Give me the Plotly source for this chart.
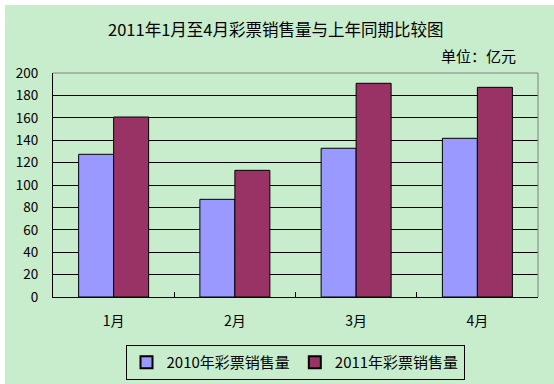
import plotly.graph_objects as go

categories = ["1月", "2月", "3月", "4月"]
sales_2010 = [127.4, 87.2, 132.8, 141.7]
sales_2011 = [160.7, 113.1, 190.8, 187.2]
series_names = ["2010年彩票销售量", "2011年彩票销售量"]
y_ticks = [0, 20, 40, 60, 80, 100, 120, 140, 160, 180, 200]

BG = "#C7EDCC"
FONT = "Noto Sans CJK SC"

W, H = 554, 384
L, R, T, B = 53, 15.5, 73, 87
pw = W - L - R
ph = H - T - B

fig = go.Figure()
fig.add_trace(go.Bar(x=categories, y=sales_2010, name=series_names[0],
                     marker=dict(color="#9999FF", line=dict(color="black", width=1))))
fig.add_trace(go.Bar(x=categories, y=sales_2011, name=series_names[1],
                     marker=dict(color="#993366", line=dict(color="black", width=1))))

fig.update_layout(
    width=W, height=H,
    margin=dict(l=L, r=R, t=T, b=B, pad=0, autoexpand=False),
    paper_bgcolor=BG, plot_bgcolor=BG,
    barmode="group", bargap=0.423, bargroupgap=0,
    font=dict(family=FONT, size=12, color="black"),
    showlegend=True,
    legend=dict(orientation="h", xref="container", yref="container",
                x=295 / W, xanchor="center", y=1 - 345 / H, yanchor="top",
                bgcolor=BG, bordercolor="black", borderwidth=1,
                font=dict(size=15, family=FONT), itemsizing="constant",
                tracegroupgap=0),
    xaxis=dict(type="category", tickson="boundaries", ticks="inside", ticklen=5,
               tickcolor="black", showline=True, linecolor="black", linewidth=1,
               showgrid=False, tickfont=dict(size=14), ticklabelstandoff=11,
               automargin=False),
    yaxis=dict(range=[0, 200], tickvals=y_ticks, showgrid=True, gridcolor="black",
               gridwidth=1, showline=True, linecolor="black", linewidth=1,
               ticks="", tickfont=dict(size=13.5), zeroline=False, ticklabelstandoff=11,
               automargin=False),
)

# gray top/right border of the plot area
fig.add_shape(type="line", xref="paper", yref="paper", x0=0, x1=1, y0=1, y1=1,
              line=dict(color="#808080", width=1), layer="above")
fig.add_shape(type="line", xref="paper", yref="paper", x0=1, x1=1, y0=0, y1=1,
              line=dict(color="#808080", width=1), layer="above")
# white strips on the top and left edges of the image
fig.add_shape(type="rect", xref="paper", yref="paper",
              x0=-L / pw - 0.01, x1=(5 - L) / pw, y0=-B / ph - 0.01, y1=1 + T / ph + 0.01,
              fillcolor="white", line=dict(width=0), layer="above")
fig.add_shape(type="rect", xref="paper", yref="paper",
              x0=-L / pw - 0.01, x1=1 + R / pw + 0.01, y0=1 + (T - 5) / ph, y1=1 + T / ph + 0.01,
              fillcolor="white", line=dict(width=0), layer="above")

fig.add_annotation(text="2011年1月至4月彩票销售量与上年同期比较图", xref="paper", yref="paper",
                   x=(276 - L) / pw, y=1 + (T - 29) / ph, xanchor="center", yanchor="middle",
                   showarrow=False, font=dict(size=16.5, family=FONT))
fig.add_annotation(text="单位：亿元", xref="paper", yref="paper",
                   x=(518 - L) / pw, y=1 + (T - 55) / ph, xanchor="right", yanchor="middle",
                   showarrow=False, font=dict(size=15, family=FONT))

fig.write_html("out.html", config={"displayModeBar": False},
               post_script="document.body.style.margin='0';")
